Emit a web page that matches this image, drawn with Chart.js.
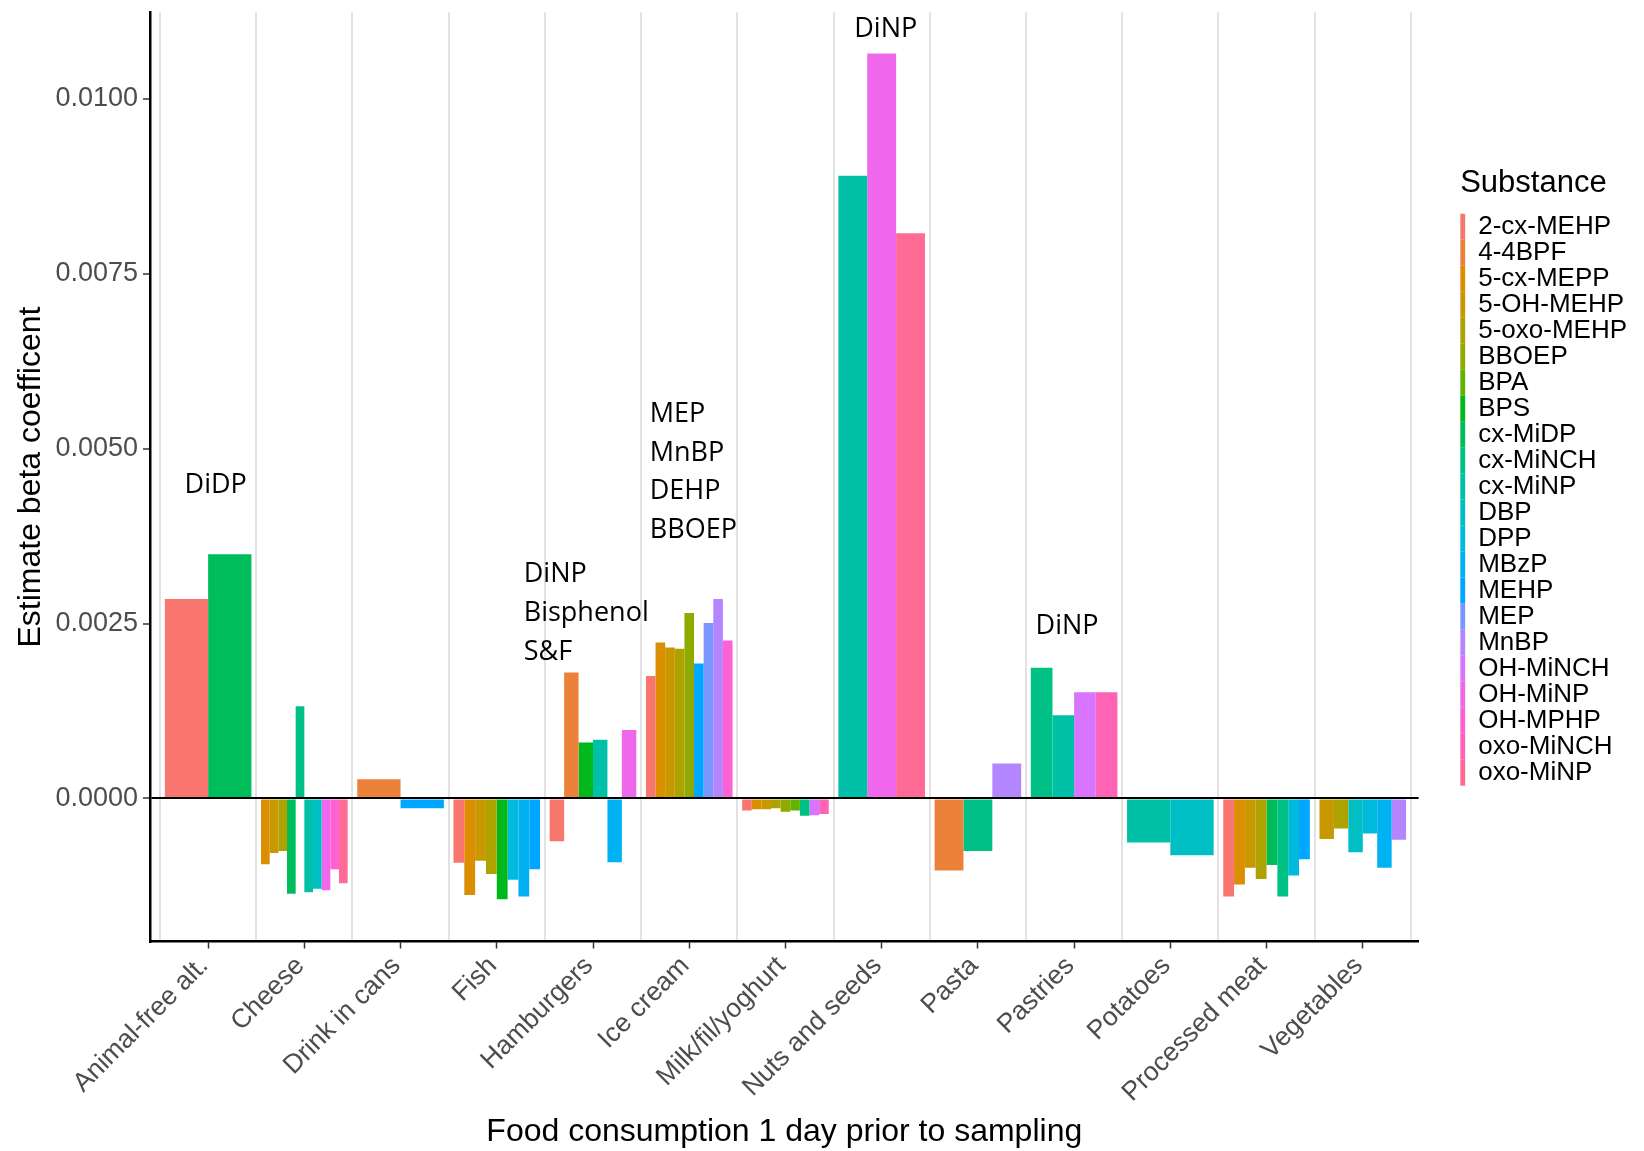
<!DOCTYPE html>
<html>
<head>
<meta charset="utf-8">
<title>Food consumption and biomarker beta coefficients</title>
<script src="https://cdn.jsdelivr.net/npm/chart.js@4.4.1/dist/chart.umd.min.js"></script>
<style>
  html, body { margin: 0; padding: 0; background: #ffffff; }
  canvas { display: block; }
</style>
</head>
<body>
<canvas id="chart" width="1644" height="1151"></canvas>
<script>
// Food groups (x axis)
const categories = [
  'Animal-free alt.', 'Cheese', 'Drink in cans', 'Fish', 'Hamburgers', 'Ice cream',
  'Milk/fil/yoghurt', 'Nuts and seeds', 'Pasta', 'Pastries', 'Potatoes',
  'Processed meat', 'Vegetables'
];

// Substances (legend order)
const substances = [
  '2-cx-MEHP', '4-4BPF', '5-cx-MEPP', '5-OH-MEHP', '5-oxo-MEHP', 'BBOEP', 'BPA', 'BPS',
  'cx-MiDP', 'cx-MiNCH', 'cx-MiNP', 'DBP', 'DPP', 'MBzP', 'MEHP', 'MEP', 'MnBP',
  'OH-MiNCH', 'OH-MiNP', 'OH-MPHP', 'oxo-MiNCH', 'oxo-MiNP'
];

// Estimated beta coefficients, one entry per food group (null = not retained)
const N = null;
const cx2MEHP   = [0.00285, N, N, -0.00092, -0.00061, 0.00175, -0.00017, N, N, N, N, -0.00140, N];
const bpf44     = [N, N, 0.000274, N, 0.00180, N, N, N, -0.00103, N, N, N, N];
const cx5MEPP   = [N, -0.00094, N, -0.00138, N, 0.00223, -0.000155, N, N, N, N, -0.00123, N];
const oh5MEHP   = [N, -0.00078, N, -0.00089, N, 0.00216, -0.000155, N, N, N, N, -0.00099, -0.00058];
const oxo5MEHP  = [N, -0.00075, N, -0.00108, N, 0.00214, -0.00014, N, N, N, N, -0.00115, -0.00043];
const bboep     = [N, N, N, N, N, 0.00265, -0.00019, N, N, N, N, N, N];
const bpa       = [N, N, N, N, N, N, -0.00017, N, N, N, N, N, N];
const bps       = [N, N, N, -0.00144, 0.00080, N, N, N, N, N, N, N, N];
const cxMiDP    = [0.00349, -0.00136, N, N, N, N, N, N, N, N, N, -0.00095, N];
const cxMiNCH   = [N, 0.00132, N, N, N, N, -0.000245, N, -0.00075, 0.00187, N, -0.00140, N];
const cxMiNP    = [N, -0.00134, N, N, 0.00084, N, N, 0.00890, N, 0.00119, -0.00063, N, N];
const dbp       = [N, -0.00129, N, N, N, N, N, N, N, N, -0.00081, N, -0.00077];
const dpp       = [N, N, N, -0.00116, N, N, N, N, N, N, N, -0.00110, -0.00050];
const mbzp      = [N, N, N, -0.00140, -0.00091, N, N, N, N, N, N, N, -0.00099];
const mehp      = [N, N, -0.00014, -0.00101, N, 0.00193, N, N, N, N, N, -0.00087, N];
const mep       = [N, N, N, N, N, 0.00251, N, N, N, N, N, N, N];
const mnbp      = [N, N, N, N, N, 0.00285, N, N, 0.00050, N, N, N, -0.00059];
const ohMiNCH   = [N, N, N, N, N, N, -0.00024, N, N, 0.00152, N, N, N];
const ohMiNP    = [N, -0.00131, N, N, 0.00098, N, N, 0.01065, N, N, N, N, N];
const ohMPHP    = [N, -0.00101, N, N, N, 0.00226, N, N, N, N, N, N, N];
const oxoMiNCH  = [N, N, N, N, N, N, -0.00022, N, N, 0.00152, N, N, N];
const oxoMiNP   = [N, -0.00121, N, N, N, N, N, 0.00808, N, N, N, N, N];

const seriesValues = [
  cx2MEHP, bpf44, cx5MEPP, oh5MEHP, oxo5MEHP, bboep, bpa, bps, cxMiDP, cxMiNCH, cxMiNP,
  dbp, dpp, mbzp, mehp, mep, mnbp, ohMiNCH, ohMiNP, ohMPHP, oxoMiNCH, oxoMiNP
];

// Y axis tick values
const yTicks = [0, 0.0025, 0.005, 0.0075, 0.01];

// Text notes above groups of bars
const notes = [
  { lines: ['DiDP'], category: 0, shift: -0.245, value: 0.00448 },
  { lines: ['DiNP', 'Bisphenol', 'S&F'], category: 4, shift: -0.72, value: 0.00320 },
  { lines: ['MEP', 'MnBP', 'DEHP', 'BBOEP'], category: 5, shift: -0.41, value: 0.005495 },
  { lines: ['DiNP'], category: 7, shift: -0.285, value: 0.01100 },
  { lines: ['DiNP'], category: 9, shift: -0.40, value: 0.002464 }
];

// Evenly spaced HCL hues (L = 65, C = 100), converted through CIE-LUV to sRGB
function hueColor(h) {
  const L = 65, C = 100;
  const rad = h * Math.PI / 180;
  const u = C * Math.cos(rad), v = C * Math.sin(rad);
  const Xn = 0.95047, Yn = 1.0, Zn = 1.08883;
  const den = Xn + 15 * Yn + 3 * Zn;
  const un = 4 * Xn / den, vn = 9 * Yn / den;
  const Y = Yn * Math.pow((L + 16) / 116, 3);
  const up = u / (13 * L) + un, vp = v / (13 * L) + vn;
  const X = Y * 9 * up / (4 * vp);
  const Z = Y * (12 - 3 * up - 20 * vp) / (4 * vp);
  const lin = [
    3.240479 * X - 1.537150 * Y - 0.498535 * Z,
    -0.969256 * X + 1.875992 * Y + 0.041556 * Z,
    0.055648 * X - 0.204043 * Y + 1.057311 * Z
  ];
  const gam = c => {
    c = Math.min(1, Math.max(0, c));
    return c <= 0.0031308 ? 12.92 * c : 1.055 * Math.pow(c, 1 / 2.4) - 0.055;
  };
  return '#' + lin.map(c => Math.round(gam(c) * 255).toString(16).padStart(2, '0')).join('');
}
function huePalette(n) {
  const step = 360 / n;
  return Array.from({ length: n }, (_, i) => hueColor(15 + i * step));
}
const palette = huePalette(substances.length);

const FONT = "'Liberation Sans', Arial, Helvetica, sans-serif";
const X_MIN = -0.604, X_MAX = 12.58;

const datasets = substances.map((name, i) => ({
  label: name,
  data: seriesValues[i],
  backgroundColor: palette[i],
  borderWidth: 0,
  categoryPercentage: 0.9,
  barPercentage: 1.0,
  skipNull: true,
  xAxisID: 'x',
  yAxisID: 'y'
}));

// Draws the substance-family notes anchored to the category / value scales
const notesPlugin = {
  id: 'groupNotes',
  afterDatasetsDraw(chart) {
    const { ctx, scales } = chart;
    const xs = scales.x, ys = scales.y;
    ctx.save();
    ctx.font = "27px 'Open Sans', 'Noto Sans', sans-serif";
    ctx.fillStyle = '#000000';
    ctx.textAlign = 'left';
    ctx.textBaseline = 'middle';
    notes.forEach(note => {
      const x = xs.getPixelForValue(note.category + note.shift);
      const y0 = ys.getPixelForValue(note.value);
      note.lines.forEach((line, j) => ctx.fillText(line, x, y0 + j * 38.8));
    });
    ctx.restore();
  }
};

new Chart(document.getElementById('chart'), {
  type: 'bar',
  data: { labels: categories.map((_, i) => i), datasets },
  options: {
    responsive: false,
    animation: false,
    events: [],
    layout: { padding: { top: 12.6, right: 7, bottom: 0, left: 0 } },
    scales: {
      x: {
        type: 'linear', position: 'bottom', min: X_MIN, max: X_MAX,
        offset: false, stacked: false,
        afterBuildTicks: s => { s.ticks = categories.map((_, i) => ({ value: i })); },
        afterFit: s => { s.height = 209.5; s.paddingLeft = 0; s.paddingRight = 0; },
        grid: { display: true, drawOnChartArea: false, drawTicks: true, tickLength: 7,
                tickColor: '#333333', tickWidth: 1.5, offset: false },
        border: { display: true, color: '#000000', width: 2.5 },
        ticks: {
          autoSkip: false, minRotation: 45, maxRotation: 45, padding: 2, labelOffset: -4,
          color: '#4d4d4d', font: { family: FONT, size: 26.5 },
          callback: v => categories[v]
        },
        title: { display: true, text: 'Food consumption 1 day prior to sampling', color: '#000000',
                 font: { family: FONT, size: 32 }, padding: { top: 0, bottom: 0 } }
      },
      xb: {
        type: 'linear', position: 'bottom', min: X_MIN, max: X_MAX, offset: false,
        afterBuildTicks: s => { s.ticks = Array.from({ length: categories.length + 1 }, (_, i) => ({ value: i - 0.5 })); },
        afterFit: s => { s.paddingLeft = 0; s.paddingRight = 0; },
        grid: { drawOnChartArea: true, drawTicks: false, color: '#e2e2e2', lineWidth: 2, offset: false },
        border: { display: false },
        ticks: { display: false }
      },
      y: {
        type: 'linear', position: 'left', min: -0.002044, max: 0.011233,
        afterBuildTicks: s => { s.ticks = yTicks.map(v => ({ value: v })); },
        afterFit: s => { s.width = 150; s.paddingTop = 0; s.paddingBottom = 0; },
        grid: {
          z: 1,
          color: c => (c.tick && c.tick.value === 0 ? '#000000' : 'rgba(0,0,0,0)'),
          lineWidth: 2, drawTicks: true, tickLength: 7, tickColor: '#333333', tickWidth: 1.5
        },
        border: { display: true, color: '#000000', width: 2.5, z: 1 },
        ticks: { color: '#4d4d4d', padding: 5, font: { family: FONT, size: 27 },
                 callback: v => Number(v).toFixed(4) },
        title: { display: true, text: 'Estimate beta coefficent', color: '#000000',
                 font: { family: FONT, size: 32 }, padding: { top: 12, bottom: 0 } }
      },
      gap: {
        type: 'linear', position: 'right', display: true,
        afterFit: s => { s.width = 41.6; s.paddingTop = 0; s.paddingBottom = 0; },
        grid: { display: false }, ticks: { display: false }, border: { display: false }
      }
    },
    plugins: {
      tooltip: { enabled: false },
      legend: {
        position: 'right', align: 'center', fullSize: false,
        title: { display: true, text: 'Substance', color: '#000000', position: 'start',
                 font: { family: FONT, size: 31 }, padding: { top: 0, bottom: 8 } },
        labels: { boxWidth: 5, boxHeight: 26, padding: 0, color: '#000000',
                  font: { family: FONT, size: 26 } }
      }
    }
  },
  plugins: [notesPlugin]
});
</script>
</body>
</html>
